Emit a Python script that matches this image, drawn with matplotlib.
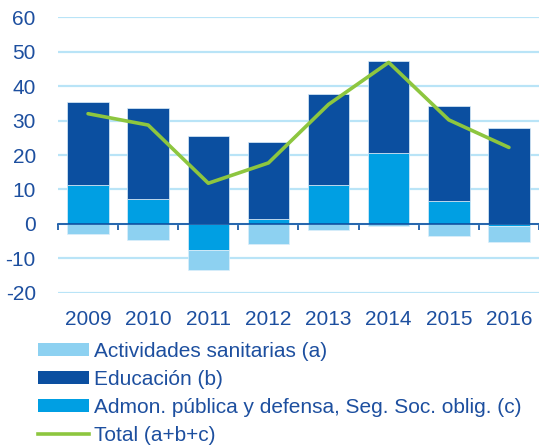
import matplotlib
matplotlib.use("Agg")
import matplotlib.pyplot as plt
from matplotlib.patches import Patch
from matplotlib.lines import Line2D
import matplotlib.transforms as mtransforms
import numpy as np

plt.rcParams['font.family'] = ['Liberation Sans', 'DejaVu Sans']

years = ['2009', '2010', '2011', '2012', '2013', '2014', '2015', '2016']
sanitarias = [-3.0, -4.7, -5.7, -5.9, -1.8, -0.7, -3.6, -4.6]
educacion = [24.0, 26.4, 25.6, 22.3, 26.3, 26.9, 27.4, 27.9]
admon = [11.3, 7.3, -7.7, 1.5, 11.3, 20.5, 6.7, -0.7]
total = [32.0, 28.7, 11.8, 17.7, 34.7, 46.9, 30.2, 22.2]
yticks = [-20, -10, 0, 10, 20, 30, 40, 50, 60]

labels = ['Actividades sanitarias (a)', 'Educación (b)',
          'Admon. pública y defensa, Seg. Soc. oblig. (c)', 'Total (a+b+c)']

c_light = '#8DD1F1'
c_dark = '#0B4FA0'
c_mid = '#009FE3'
c_green = '#8DC63F'
c_text = '#1D4F9F'
c_grid = '#B9E4F7'

fig = plt.figure(figsize=(5.39, 4.46), dpi=100)
ax = fig.add_axes([0.1076, 0.3437, 0.8924, 0.6175])

x = np.arange(len(years))
pos_bottom = np.zeros(len(years))
neg_bottom = np.zeros(len(years))
w = 0.69
for vals, col in [(admon, c_mid), (educacion, c_dark), (sanitarias, c_light)]:
    v = np.array(vals)
    b = np.where(v >= 0, pos_bottom, neg_bottom)
    ax.bar(x, v, width=w, bottom=b, color=col, edgecolor='#DDEFFA',
           linewidth=0.5, zorder=2)
    pos_bottom = pos_bottom + np.where(v >= 0, v, 0)
    neg_bottom = neg_bottom + np.where(v < 0, v, 0)

ax.plot(x, total, color=c_green, linewidth=2.6, zorder=4, solid_capstyle='round')

ax.set_xlim(-0.5, 7.5)
ax.set_ylim(-20, 60)
ax.set_yticks(yticks)
ax.set_yticklabels([str(t) for t in yticks], fontsize=15, color=c_text)
ax.tick_params(axis='y', length=0, pad=16)
ax.yaxis.grid(True, color=c_grid, linewidth=1.6, zorder=0)
ax.set_axisbelow(True)

for s in ['top', 'right', 'left']:
    ax.spines[s].set_visible(False)
ax.spines['bottom'].set_position(('data', 0))
ax.spines['bottom'].set_color(c_dark)
ax.spines['bottom'].set_linewidth(1.2)
ax.spines['bottom'].set_zorder(3)
ax.set_xticks(np.arange(-0.5, 8.0, 1.0))
ax.set_xticklabels([])
ax.tick_params(axis='x', direction='out', length=4, width=1.2, color=c_dark)

trans = mtransforms.blended_transform_factory(ax.transData, ax.transAxes)
for xi, yr in zip(x, years):
    ax.text(xi, -0.099, yr, transform=trans, ha='center', va='center',
            fontsize=15, color=c_text)

handles = [Patch(facecolor=c_light, edgecolor='none'),
           Patch(facecolor=c_dark, edgecolor='none'),
           Patch(facecolor=c_mid, edgecolor='none'),
           Line2D([0], [0], color=c_green, linewidth=2.6)]
leg = fig.legend(handles, labels, loc='upper left', bbox_to_anchor=(0.0705, 0.234),
                 frameon=False, fontsize=15, handlelength=2.45, handleheight=0.58,
                 handletextpad=0.25, labelspacing=0.44, borderpad=0, borderaxespad=0)
for t in leg.get_texts():
    t.set_color(c_text)

fig.savefig('out.png', dpi=100)
